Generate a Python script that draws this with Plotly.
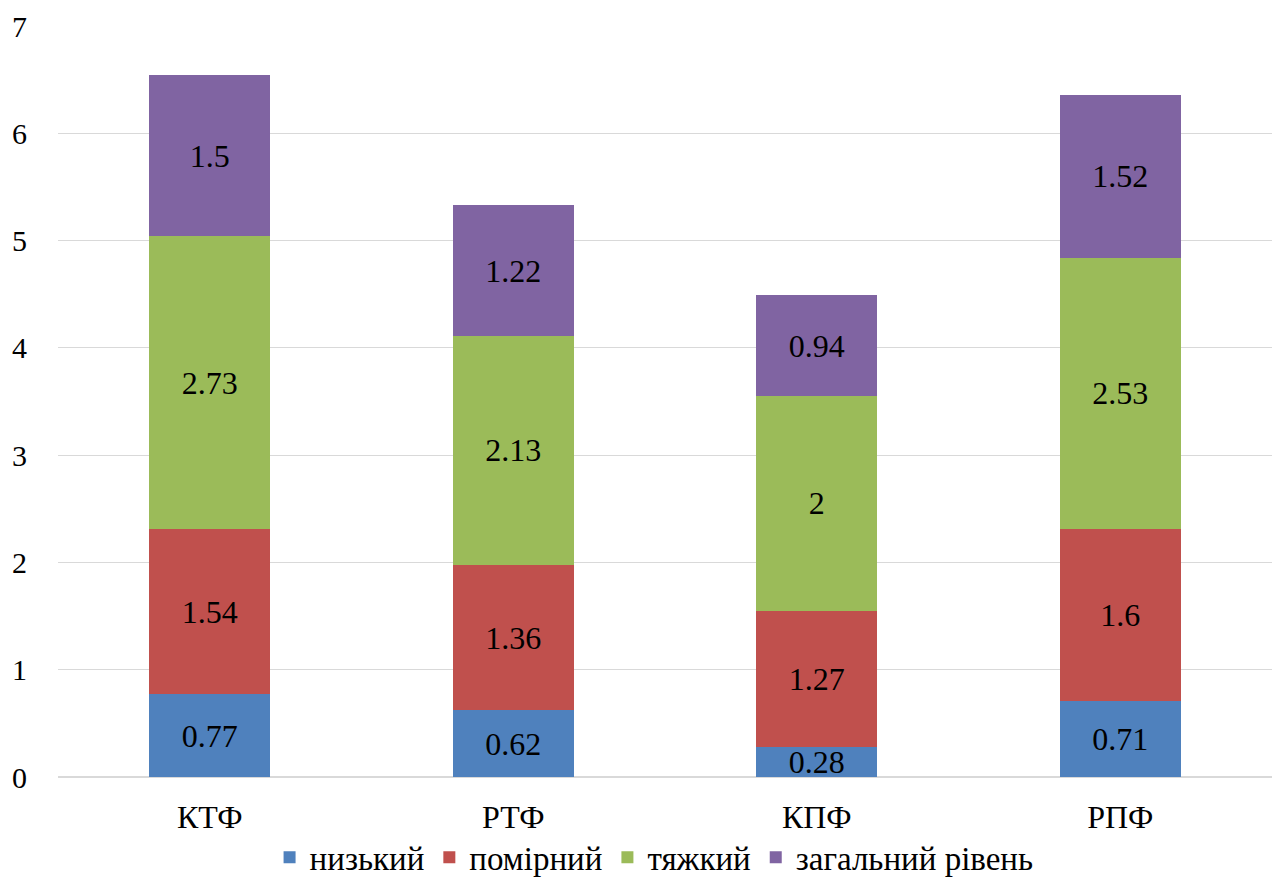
import plotly.graph_objects as go

categories = ["КТФ", "РТФ", "КПФ", "РПФ"]
low = [0.77, 0.62, 0.28, 0.71]
moderate = [1.54, 1.36, 1.27, 1.6]
severe = [2.73, 2.13, 2.0, 2.53]
overall = [1.5, 1.22, 0.94, 1.52]

series = [
    ("низький", low, "#4F81BD"),
    ("помірний", moderate, "#C0504D"),
    ("тяжкий", severe, "#9BBB59"),
    ("загальний рівень", overall, "#8064A2"),
]

serif = "Liberation Serif"

fig = go.Figure()
for name, vals, color in series:
    fig.add_trace(go.Bar(
        x=categories, y=vals, name=name,
        marker=dict(color=color, line=dict(width=0)),
        text=[f"{v:g}" for v in vals],
        textposition="inside", insidetextanchor="middle",
        textfont=dict(family=serif, size=32, color="black"),
        constraintext="none",
    ))

fig.update_layout(
    barmode="stack", bargap=0.6,
    width=1272, height=877,
    margin=dict(l=58, r=0, t=26, b=100, autoexpand=False),
    paper_bgcolor="white", plot_bgcolor="white",
    font=dict(family=serif, size=30, color="black"),
    legend=dict(orientation="h", x=0.491, xanchor="center", y=-0.107, yanchor="middle",
                font=dict(family=serif, size=33), traceorder="normal"),
)
fig.update_yaxes(range=[0, 7], dtick=1, showgrid=True, gridcolor="#D9D9D9",
                 zeroline=True, zerolinecolor="#D9D9D9",
                 showline=False, ticks="", ticklabelstandoff=30, automargin=False,
                 tickfont=dict(family=serif, size=30))
fig.update_xaxes(showline=False, ticks="", ticklabelstandoff=18, automargin=False,
                 tickfont=dict(family=serif, size=32))

fig.write_html("out.html")
